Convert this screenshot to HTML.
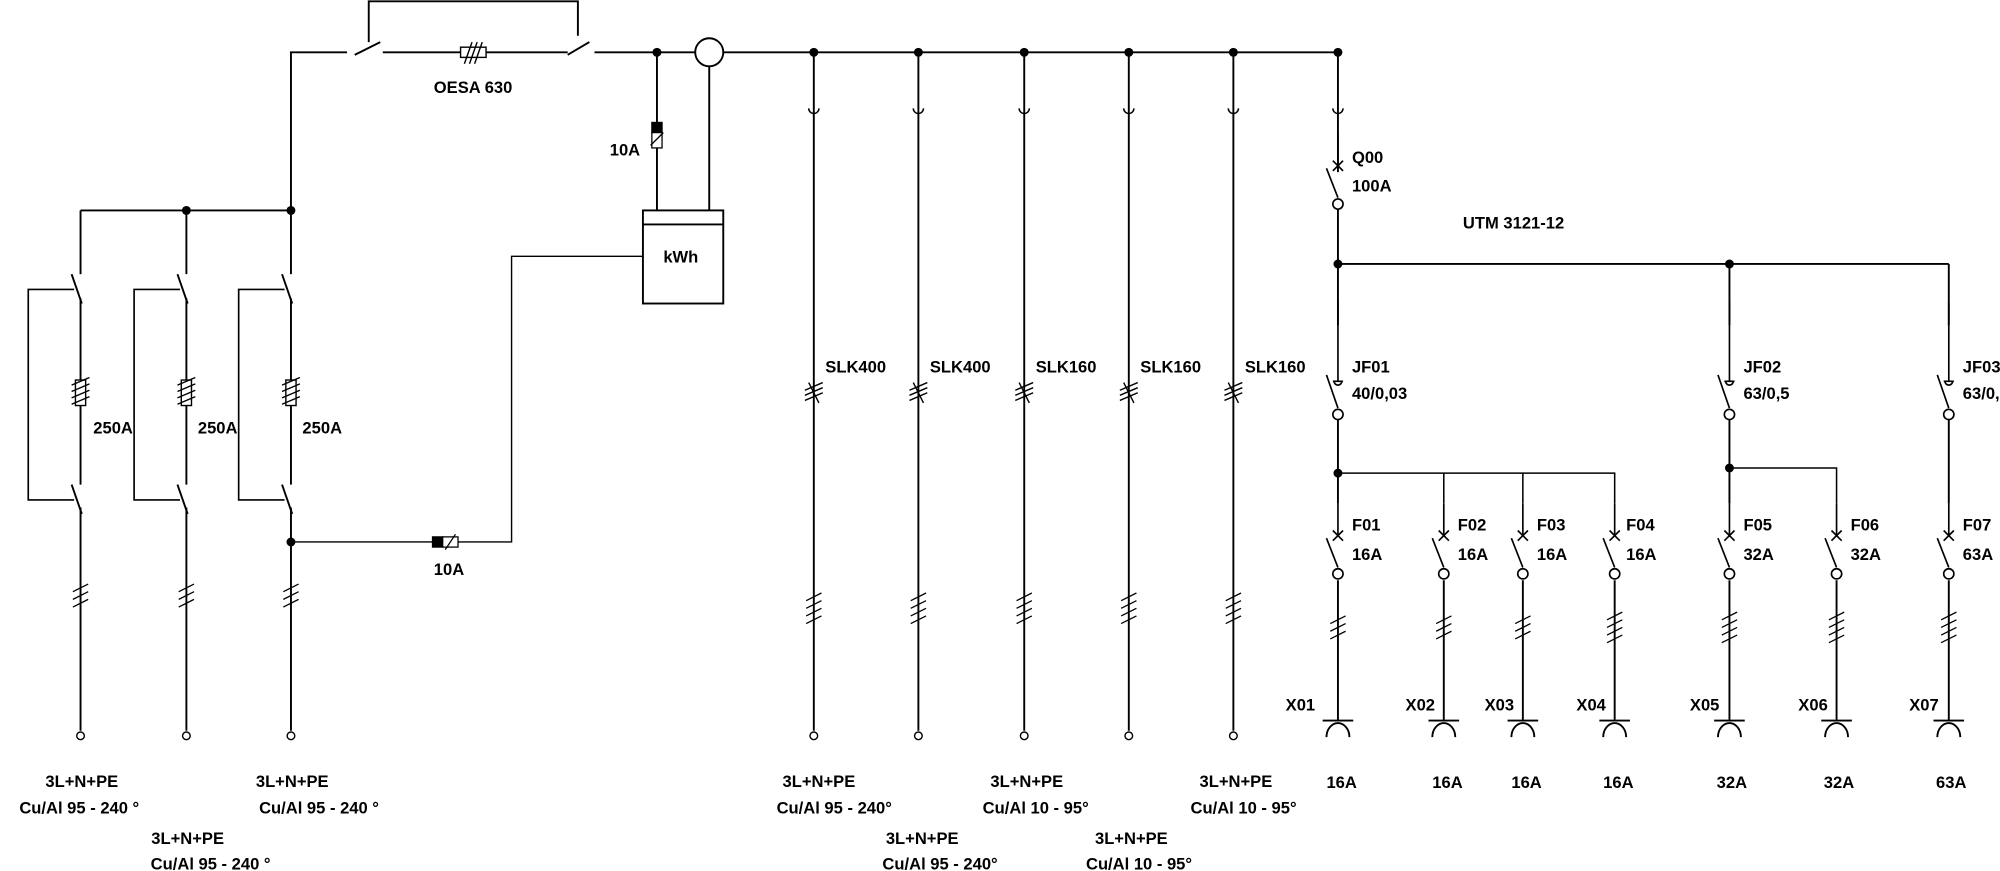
<!DOCTYPE html>
<html><head><meta charset="utf-8"><style>
html,body{margin:0;padding:0;background:#fff}
svg{display:block}
text{font-family:"Liberation Sans Narrow","Liberation Sans",sans-serif;font-size:13px;fill:#000;font-weight:bold}
</style></head><body>
<svg width="2000" height="871" viewBox="0 0 1568 683" xmlns="http://www.w3.org/2000/svg">
<defs>
<g id="hash3" stroke="#000" stroke-width="1" fill="none">
<line x1="-6" y1="-6" x2="6" y2="-12"/><line x1="-6" y1="0" x2="6" y2="-6"/><line x1="-6" y1="6" x2="6" y2="0"/>
</g>
<g id="hash4" stroke="#000" stroke-width="1" fill="none">
<line x1="-6" y1="-9" x2="6" y2="-15"/><line x1="-6" y1="-3" x2="6" y2="-9"/><line x1="-6" y1="3" x2="6" y2="-3"/><line x1="-6" y1="9" x2="6" y2="3"/>
</g>
<g id="mcb" stroke="#000" stroke-width="1.3" fill="#fff">
<line x1="0" y1="-30" x2="0" y2="-5" fill="none"/>
<line x1="-4" y1="-9" x2="4" y2="-1"/><line x1="4" y1="-9" x2="-4" y2="-1"/>
<line x1="-9" y1="-3" x2="0" y2="20"/>
<circle cx="0" cy="25" r="4"/>
</g>
<g id="rcd" stroke="#000" stroke-width="1.3" fill="#fff">
<line x1="0" y1="-60" x2="0" y2="2"/>
<line x1="-4" y1="2" x2="4" y2="2"/>
<path d="M-3 2 A3 3 0 0 0 3 2" fill="none"/>
<line x1="-9" y1="-3" x2="0" y2="23"/>
<circle cx="0" cy="28" r="4"/>
</g>
<g id="cup" stroke="#000" stroke-width="1.2" fill="none">
<path d="M-4 -3 A4 4 0 0 0 4 -3"/>
</g>
<g id="sock" stroke="#000" stroke-width="1.5" fill="none">
<line x1="-12" y1="0" x2="12" y2="0"/>
<path d="M-9 13 A9 11 0 0 1 9 13"/>
</g>
<g id="fuse" stroke="#000" stroke-width="1.1" fill="#fff">
<rect x="-4" y="-10" width="8" height="20"/>
<line x1="-7" y1="-6" x2="7" y2="-12" fill="none"/><line x1="-7" y1="-1" x2="7" y2="-7" fill="none"/><line x1="-7" y1="4" x2="7" y2="-2" fill="none"/><line x1="-7" y1="9" x2="7" y2="3" fill="none"/>
</g>
</defs>
<g stroke="#000" stroke-width="1.5" fill="none">
<polyline points="228,165 228,41 272,41"/>
<line x1="278" y1="43" x2="298" y2="33"/>
<line x1="300" y1="41" x2="445" y2="41"/>
<line x1="445" y1="43" x2="462" y2="33"/>
<line x1="466" y1="41" x2="545" y2="41"/>
<line x1="567" y1="41" x2="1049" y2="41"/>
<polyline points="289,33 289,1 453,1 453,28"/>
<circle cx="556" cy="41" r="11" fill="#fff"/>
<rect x="361" y="37" width="20" height="8" fill="#fff" stroke-width="1.1"/>
<g stroke-width="1.1"><line x1="364" y1="50" x2="370" y2="33"/><line x1="368" y1="50" x2="374" y2="33"/><line x1="372" y1="50" x2="378" y2="33"/></g>
<line x1="515" y1="41" x2="515" y2="165"/>
<line x1="556" y1="52" x2="556" y2="165"/>
<rect x="511" y="96" width="8" height="8" fill="#000" stroke-width="1"/>
<rect x="511" y="104" width="8" height="12" fill="#fff" stroke-width="1"/>
<line x1="510" y1="114" x2="520" y2="104" stroke-width="1"/>
<rect x="504" y="165" width="63" height="73" fill="#fff"/>
<line x1="504" y1="176" x2="567" y2="176"/>
<polyline points="504,201 401,201 401,425 357,425" stroke-width="1.1"/>
<line x1="228" y1="425" x2="339" y2="425" stroke-width="1.1"/>
<rect x="339" y="421" width="8" height="8" fill="#000" stroke-width="1"/>
<rect x="347" y="421" width="12" height="8" fill="#fff" stroke-width="1"/>
<line x1="349" y1="431" x2="357" y2="419" stroke-width="1"/>
<line x1="63" y1="165" x2="228" y2="165"/>
</g>
<g fill="#000">
<circle cx="515" cy="41" r="3.5"/><circle cx="638" cy="41" r="3.5"/><circle cx="720" cy="41" r="3.5"/><circle cx="803" cy="41" r="3.5"/><circle cx="885" cy="41" r="3.5"/><circle cx="967" cy="41" r="3.5"/><circle cx="1049" cy="41" r="3.5"/>
<circle cx="146" cy="165" r="3.5"/><circle cx="228" cy="165" r="3.5"/><circle cx="228" cy="425" r="3.5"/>
<circle cx="1049" cy="207" r="3.5"/><circle cx="1356" cy="207" r="3.5"/><circle cx="1049" cy="371" r="3.5"/><circle cx="1356" cy="367" r="3.5"/>
</g>
<g stroke="#000" stroke-width="1.5" fill="none">
<g id="lf">
<line x1="63" y1="165" x2="63" y2="215"/>
<line x1="56" y1="215" x2="64" y2="238"/>
<line x1="63" y1="234" x2="63" y2="380"/>
<line x1="56" y1="380" x2="64" y2="403"/>
<line x1="63" y1="398" x2="63" y2="573"/>
<polyline points="58,227 22,227 22,392 58,392" stroke-width="1.3"/>
<circle cx="63" cy="577" r="3" fill="#fff" stroke-width="1.1"/>
</g>
<use href="#lf" x="83"/><use href="#lf" x="165"/>
</g>
<use href="#fuse" x="63" y="308"/><use href="#fuse" x="146" y="308"/><use href="#fuse" x="228" y="308"/>
<use href="#hash3" x="63" y="470"/><use href="#hash3" x="146" y="470"/><use href="#hash3" x="228" y="470"/>
<g stroke="#000" stroke-width="1.5" fill="none">
<line x1="638" y1="41" x2="638" y2="573"/><line x1="720" y1="41" x2="720" y2="573"/><line x1="803" y1="41" x2="803" y2="573"/><line x1="885" y1="41" x2="885" y2="573"/><line x1="967" y1="41" x2="967" y2="573"/>
<g fill="#fff" stroke-width="1.1"><circle cx="638" cy="577" r="3"/><circle cx="720" cy="577" r="3"/><circle cx="803" cy="577" r="3"/><circle cx="885" cy="577" r="3"/><circle cx="967" cy="577" r="3"/></g>
</g>
<use href="#cup" x="638" y="88"/><use href="#cup" x="720" y="88"/><use href="#cup" x="803" y="88"/><use href="#cup" x="885" y="88"/><use href="#cup" x="967" y="88"/><use href="#cup" x="1049" y="88"/>
<g stroke="#000" stroke-width="1.1" fill="none">
<g id="slkm"><line x1="631" y1="306" x2="645" y2="300"/><line x1="631" y1="310" x2="645" y2="304"/><line x1="631" y1="314" x2="645" y2="308"/><line x1="634" y1="300" x2="642" y2="316"/></g>
<use href="#slkm" x="82"/><use href="#slkm" x="165"/><use href="#slkm" x="247"/><use href="#slkm" x="329"/>
</g>
<use href="#hash4" x="638" y="480"/><use href="#hash4" x="720" y="480"/><use href="#hash4" x="803" y="480"/><use href="#hash4" x="885" y="480"/><use href="#hash4" x="967" y="480"/>
<g stroke="#000" stroke-width="1.5" fill="none">
<line x1="1049" y1="41" x2="1049" y2="135"/>
<line x1="1049" y1="164" x2="1049" y2="255"/>
<line x1="1049" y1="207" x2="1528" y2="207"/>
<line x1="1356" y1="207" x2="1356" y2="255"/>
<line x1="1528" y1="207" x2="1528" y2="255"/>
<line x1="1049" y1="329" x2="1049" y2="395"/>
<polyline points="1049,371 1266,371 1266,395" stroke-width="1.2"/>
<line x1="1132" y1="371" x2="1132" y2="395" stroke-width="1.2"/>
<line x1="1194" y1="371" x2="1194" y2="395" stroke-width="1.2"/>
<line x1="1356" y1="329" x2="1356" y2="395"/>
<polyline points="1356,367 1440,367 1440,395" stroke-width="1.2"/>
<line x1="1528" y1="329" x2="1528" y2="395"/>
<line x1="1049" y1="455" x2="1049" y2="565"/><line x1="1132" y1="455" x2="1132" y2="565"/><line x1="1194" y1="455" x2="1194" y2="565"/><line x1="1266" y1="455" x2="1266" y2="565"/><line x1="1356" y1="455" x2="1356" y2="565"/><line x1="1440" y1="455" x2="1440" y2="565"/><line x1="1528" y1="455" x2="1528" y2="565"/>
</g>
<use href="#mcb" x="1049" y="135"/>
<use href="#rcd" x="1049" y="297"/><use href="#rcd" x="1356" y="297"/><use href="#rcd" x="1528" y="297"/>
<use href="#mcb" x="1049" y="425"/><use href="#mcb" x="1132" y="425"/><use href="#mcb" x="1194" y="425"/><use href="#mcb" x="1266" y="425"/><use href="#mcb" x="1356" y="425"/><use href="#mcb" x="1440" y="425"/><use href="#mcb" x="1528" y="425"/>
<use href="#hash3" x="1049" y="495"/><use href="#hash3" x="1132" y="495"/><use href="#hash3" x="1194" y="495"/>
<use href="#hash4" x="1266" y="495"/><use href="#hash4" x="1356" y="495"/><use href="#hash4" x="1440" y="495"/><use href="#hash4" x="1528" y="495"/>
<use href="#sock" x="1049" y="565"/><use href="#sock" x="1132" y="565"/><use href="#sock" x="1194" y="565"/><use href="#sock" x="1266" y="565"/><use href="#sock" x="1356" y="565"/><use href="#sock" x="1440" y="565"/><use href="#sock" x="1528" y="565"/>
<text x="340" y="73">OESA 630</text>
<text x="478" y="122">10A</text>
<text x="520" y="206">kWh</text>
<text x="340" y="451">10A</text>
<text x="73" y="340">250A</text><text x="155" y="340">250A</text><text x="237" y="340">250A</text>
<text x="647" y="292">SLK400</text><text x="729" y="292">SLK400</text><text x="812" y="292">SLK160</text><text x="894" y="292">SLK160</text><text x="976" y="292">SLK160</text>
<text x="1060" y="128">Q00</text><text x="1060" y="150">100A</text>
<text x="1147" y="179">UTM 3121-12</text>
<text x="1060" y="292">JF01</text><text x="1060" y="313">40/0,03</text>
<text x="1367" y="292">JF02</text><text x="1367" y="313">63/0,5</text>
<text x="1539" y="292">JF03</text><text x="1539" y="313">63/0,5</text>
<text x="1060" y="416">F01</text><text x="1060" y="439">16A</text>
<text x="1143" y="416">F02</text><text x="1143" y="439">16A</text>
<text x="1205" y="416">F03</text><text x="1205" y="439">16A</text>
<text x="1275" y="416">F04</text><text x="1275" y="439">16A</text>
<text x="1367" y="416">F05</text><text x="1367" y="439">32A</text>
<text x="1451" y="416">F06</text><text x="1451" y="439">32A</text>
<text x="1539" y="416">F07</text><text x="1539" y="439">63A</text>
<text x="1008" y="557">X01</text><text x="1102" y="557">X02</text><text x="1164" y="557">X03</text><text x="1236" y="557">X04</text><text x="1325" y="557">X05</text><text x="1410" y="557">X06</text><text x="1497" y="557">X07</text>
<text x="1040" y="618">16A</text><text x="1123" y="618">16A</text><text x="1185" y="618">16A</text><text x="1257" y="618">16A</text><text x="1346" y="618">32A</text><text x="1430" y="618">32A</text><text x="1518" y="618">63A</text>
<g text-anchor="middle">
<text x="64" y="617">3L+N+PE</text><text x="62" y="638">Cu/Al 95 - 240 °</text>
<text x="147" y="662">3L+N+PE</text><text x="165" y="682">Cu/Al 95 - 240 °</text>
<text x="229" y="617">3L+N+PE</text><text x="250" y="638">Cu/Al 95 - 240 °</text>
<text x="642" y="617">3L+N+PE</text><text x="654" y="638">Cu/Al 95 - 240°</text>
<text x="723" y="662">3L+N+PE</text><text x="737" y="682">Cu/Al 95 - 240°</text>
<text x="805" y="617">3L+N+PE</text><text x="812" y="638">Cu/Al 10 - 95°</text>
<text x="887" y="662">3L+N+PE</text><text x="893" y="682">Cu/Al 10 - 95°</text>
<text x="969" y="617">3L+N+PE</text><text x="975" y="638">Cu/Al 10 - 95°</text>
</g>
</svg>
</body></html>
